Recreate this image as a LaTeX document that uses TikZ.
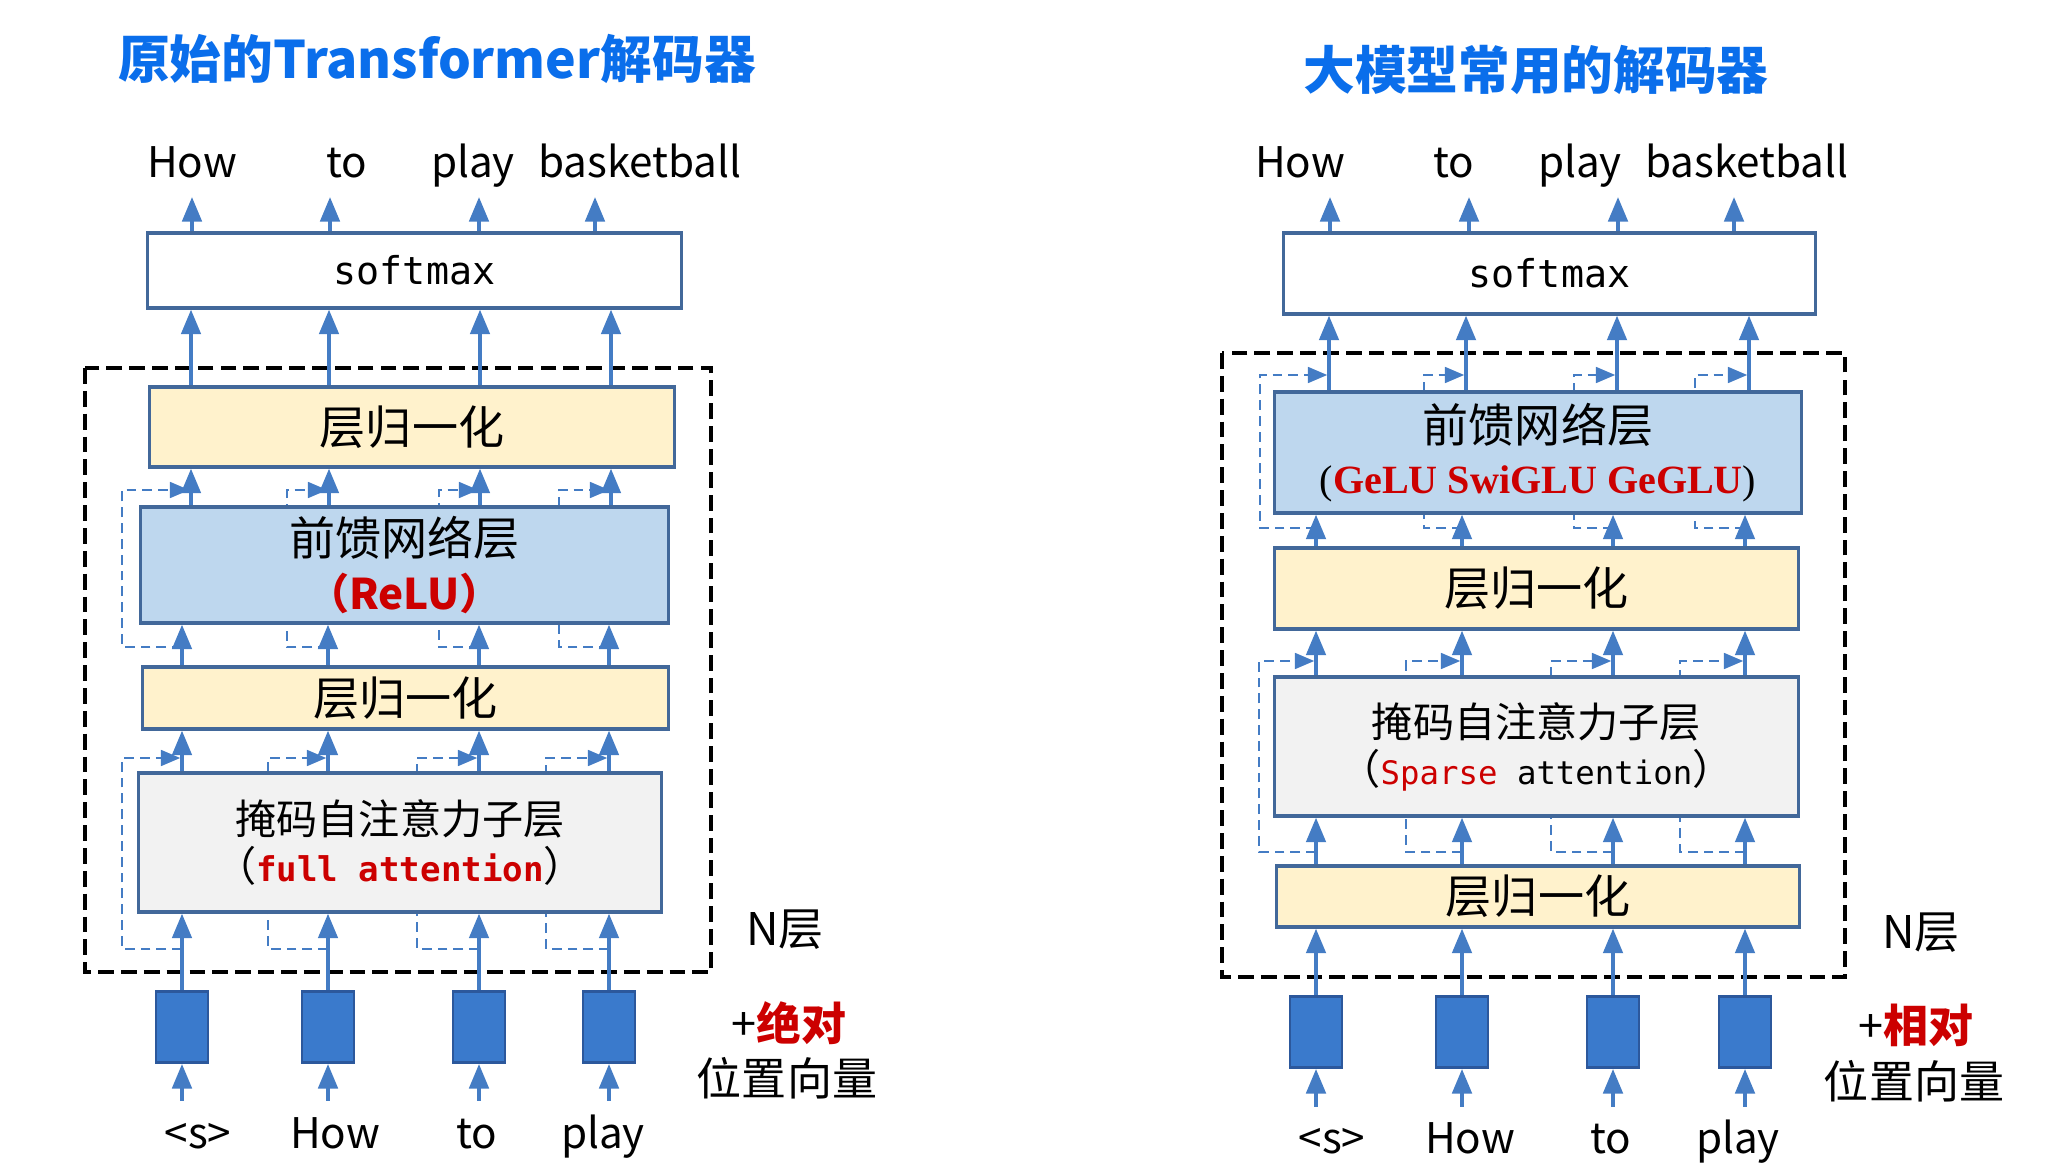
\documentclass[tikz,border=0pt]{standalone}
\usepackage{fontspec}
\setmainfont{Noto Sans CJK SC}
\setmonofont{DejaVu Sans Mono}
\newfontfamily\cjk{Noto Sans CJK SC}
\newfontfamily\serifen{Liberation Serif}
\usetikzlibrary{arrows.meta,backgrounds}

\definecolor{titleblue}{RGB}{10,110,235}
\definecolor{arrowblue}{RGB}{68,124,196}
\definecolor{boxline}{RGB}{66,104,154}
\definecolor{normfill}{RGB}{255,242,204}
\definecolor{ffnfill}{RGB}{190,215,238}
\definecolor{attnfill}{RGB}{242,242,242}
\definecolor{tokfill}{RGB}{58,122,204}
\definecolor{tokline}{RGB}{44,88,156}
\definecolor{redtxt}{RGB}{204,0,0}

\begin{document}
\begin{tikzpicture}[x=0.01cm,y=-0.01cm]
    \tikzstyle{block}=[rectangle,draw=boxline,line width=0.9pt,inner sep=0pt,align=center]
    \tikzstyle{token}=[rectangle,draw=tokline,fill=tokfill,line width=0.8pt,minimum width=0.52cm,minimum height=0.71cm]
    \tikzstyle{arr}=[draw=arrowblue,line width=1.1pt,-{Triangle[width=5.5pt,length=7pt]}]
    \tikzstyle{res}=[draw=arrowblue,line width=0.65pt,dash pattern=on 2.8pt off 1.7pt,shorten >=0.5pt,-{Triangle[width=4.5pt,length=5.5pt]}]
    \tikzstyle{word}=[anchor=base,inner sep=0pt,font=\fontsize{12}{14}\selectfont]
    \tikzstyle{heading}=[font=\fontsize{14.7}{18}\selectfont\bfseries,text=titleblue]
    \tikzstyle{sidetext}=[font=\fontsize{12.8}{15}\selectfont]
    \tikzstyle{nlayers}=[draw=black,line width=1.1pt,dash pattern=on 4.5pt off 2pt]

    \useasboundingbox (0,0) rectangle (2054,1176);

    % left: original Transformer decoder
    \node[heading] (titleL) at (437,59) {原始的Transformer解码器};

    \node[word] (outL1) at (192,178) {How};
    \node[word] (outL2) at (347,178) {to};
    \node[word] (outL3) at (473,178) {play};
    \node[word] (outL4) at (640,178) {basketball};
    \coordinate (topL) at (0,197);

    \draw[nlayers] (85,368) rectangle (711,972);

    \node[block,minimum width=5.33cm,minimum height=0.75cm,font=\fontsize{10.9}{13}\selectfont\ttfamily] (smL) at (414.5,270.5) {softmax};
    \node[block,fill=normfill,minimum width=5.24cm,minimum height=0.8cm,font=\fontsize{13.1}{15}\selectfont] (normL2) at (412,427) {层归一化};
    \node[block,fill=ffnfill,minimum width=5.27cm,minimum height=1.16cm,font=\fontsize{13.1}{15.6}\selectfont] (ffnL) at (404.5,565)
        {前馈网络层\\{\fontsize{12}{15.6}\selectfont\bfseries\color{redtxt}（ReLU）}};
    \node[block,fill=normfill,minimum width=5.25cm,minimum height=0.62cm,font=\fontsize{13.1}{15}\selectfont] (normL1) at (405.5,698) {层归一化};
    \node[block,fill=attnfill,minimum width=5.22cm,minimum height=1.39cm,font=\fontsize{11.7}{13.4}\selectfont] (attnL) at (400,842.5)
        {掩码自注意力子层\\（{\fontsize{9.7}{13.4}\selectfont\ttfamily\bfseries\color{redtxt}full attention}）};

    \foreach \i/\x/\u/\t in {1/182/191/192,2/328/329/330,3/479/480/479,4/609/611/595}{
        \coordinate (cL\i) at (\x,0);
        \coordinate (uL\i) at (\u,0);
        \coordinate (tL\i) at (\t,0);
        \node[token] (tokL\i) at (\x,1027) {};
    }

    \foreach \i in {1,...,4}{
        \draw[arr] ([yshift=-0.37cm]tokL\i.south) -- (tokL\i.south);
        \draw[arr] (tokL\i.north) -- (cL\i |- attnL.south);
        \draw[arr] (cL\i |- attnL.north) -- (cL\i |- normL1.south);
        \draw[arr] (cL\i |- normL1.north) -- (cL\i |- ffnL.south);
        \draw[arr] (uL\i |- ffnL.north) -- (uL\i |- normL2.south);
        \draw[arr] (uL\i |- normL2.north) -- (uL\i |- smL.south);
        \draw[arr] (tL\i |- smL.north) -- (tL\i |- topL);
    }

    \node[word] (inL1) at (198,1148) {<s>};
    \node[word] (inL2) at (335,1148) {How};
    \node[word] (inL3) at (477,1148) {to};
    \node[word] (inL4) at (603,1148) {play};

    \node[sidetext] (nL) at (785,930) {N层};
    \node[sidetext] (posL1) at (789,1023) {+{\bfseries\color{redtxt}绝对}};
    \node[sidetext] (posL2) at (787,1078) {位置向量};

    % right: decoder used by large models
    \node[heading] (titleR) at (1536,70) {大模型常用的解码器};

    \node[word] (outR1) at (1300,178) {How};
    \node[word] (outR2) at (1454,178) {to};
    \node[word] (outR3) at (1580,178) {play};
    \node[word] (outR4) at (1747,178) {basketball};
    \coordinate (topR) at (0,197);

    \draw[nlayers] (1222,353) rectangle (1845,977);

    \node[block,minimum width=5.31cm,minimum height=0.81cm,font=\fontsize{10.9}{13}\selectfont\ttfamily] (smR) at (1549.5,273.5) {softmax};
    \node[block,fill=ffnfill,minimum width=5.26cm,minimum height=1.21cm,font=\fontsize{13.1}{14.5}\selectfont] (ffnR) at (1538,452.5)
        {前馈网络层\\{\fontsize{11.4}{14.5}\selectfont\serifen(\textcolor{redtxt}{\bfseries GeLU SwiGLU GeGLU})}};
    \node[block,fill=normfill,minimum width=5.23cm,minimum height=0.81cm,font=\fontsize{13.1}{15}\selectfont] (normR2) at (1536.5,588.5) {层归一化};
    \node[block,fill=attnfill,minimum width=5.23cm,minimum height=1.39cm,font=\fontsize{11.7}{13.4}\selectfont] (attnR) at (1536.5,746.5)
        {掩码自注意力子层\\（{\fontsize{9.2}{13.4}\selectfont\ttfamily\textcolor{redtxt}{Sparse} attention}）};
    \node[block,fill=normfill,minimum width=5.22cm,minimum height=0.61cm,font=\fontsize{13.1}{15}\selectfont] (normR1) at (1538,896.5) {层归一化};

    \foreach \i/\x/\u/\t in {1/1316/1329/1330,2/1462/1466/1469,3/1613/1617/1618,4/1745/1749/1734}{
        \coordinate (cR\i) at (\x,0);
        \coordinate (uR\i) at (\u,0);
        \coordinate (tR\i) at (\t,0);
        \node[token] (tokR\i) at (\x,1032) {};
    }

    \foreach \i in {1,...,4}{
        \draw[arr] ([yshift=-0.38cm]tokR\i.south) -- (tokR\i.south);
        \draw[arr] (tokR\i.north) -- (cR\i |- normR1.south);
        \draw[arr] (cR\i |- normR1.north) -- (cR\i |- attnR.south);
        \draw[arr] (cR\i |- attnR.north) -- (cR\i |- normR2.south);
        \draw[arr] (cR\i |- normR2.north) -- (cR\i |- ffnR.south);
        \draw[arr] (uR\i |- ffnR.north) -- (uR\i |- smR.south);
        \draw[arr] (tR\i |- smR.north) -- (tR\i |- topR);
    }

    \node[word] (inR1) at (1332,1153) {<s>};
    \node[word] (inR2) at (1470,1153) {How};
    \node[word] (inR3) at (1611,1153) {to};
    \node[word] (inR4) at (1738,1153) {play};

    \node[sidetext] (nR) at (1921,933) {N层};
    \node[sidetext] (posR1) at (1916,1025) {+{\bfseries\color{redtxt}相对}};
    \node[sidetext] (posR2) at (1914,1081) {位置向量};

    % residual connections, behind the blocks
    \begin{scope}[on background layer]
        \fill[white] (0,0) rectangle (2054,1176);
        \foreach \x/\u/\a/\f in {182/191/122/122,328/329/268/287,479/480/417/439,609/611/546/559}{
            \draw[res] (\x,949) -| (\a,758) -- (\x,758);
            \draw[res] (\x,647) -| (\f,490) -- (\u,490);
        }
        \foreach \x/\u/\a/\f in {1316/1329/1259/1260,1462/1466/1406/1424,1613/1617/1551/1574,1745/1749/1680/1695}{
            \draw[res] (\x,852) -| (\a,661) -- (\x,661);
            \draw[res] (\x,528) -| (\f,375) -- (\u,375);
        }
    \end{scope}
\end{tikzpicture}
\end{document}
